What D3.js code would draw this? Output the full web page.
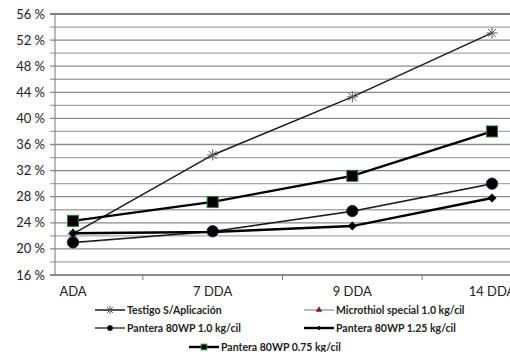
<!DOCTYPE html>
<html>
<head>
<meta charset="utf-8">
<script src="https://d3js.org/d3.v7.min.js"></script>
<style>
  body, html { margin: 0; padding: 0; background: #fff; }
  svg { display: block; }
  text { font-family: Lato, "Open Sans", sans-serif; fill: #222; }
</style>
</head>
<body>
<svg width="510" height="352"></svg>
<script>
  // categories and series values (percent)
  const categories = ["ADA", "7 DDA", "9 DDA", "14 DDA"];
  const testigo     = [22.3, 34.4, 43.3, 53.1];
  const microthiol  = [20.9, 22.6, 25.7, 29.9];
  const pantera10   = [21.0, 22.7, 25.8, 30.0];
  const pantera125  = [22.4, 22.6, 23.5, 27.8];
  const pantera075  = [24.3, 27.2, 31.2, 38.0];
  const yTicks = d3.range(16, 57, 4);
  const yMinor = d3.range(16, 57, 2);

  const series = [
    { name: "Testigo S/Aplicación", values: testigo, width: 1.5, color: "#1a1a1a", marker: "star" },
    { name: "Microthiol special 1.0 kg/cil", values: microthiol, width: 1, color: "#777", marker: "triangle" },
    { name: "Pantera 80WP 1.0 kg/cil", values: pantera10, width: 1.2, color: "#111", marker: "circle" },
    { name: "Pantera 80WP 1.25 kg/cil", values: pantera125, width: 2.4, color: "#000", marker: "diamond" },
    { name: "Pantera 80WP 0.75 kg/cil", values: pantera075, width: 2.4, color: "#000", marker: "square" }
  ];

  const svg = d3.select("svg");
  const plotL = 55, plotR = 510, plotT = 14, plotB = 275;

  const x = d3.scalePoint().domain(categories).range([73, 492]);
  const y = d3.scaleLinear().domain([16, 56]).range([plotB, plotT]);

  // gridlines
  svg.append("g").selectAll("line").data(yMinor).join("line")
    .attr("x1", plotL - 5).attr("x2", plotR)
    .attr("y1", d => y(d)).attr("y2", d => y(d))
    .attr("stroke", d => d === 56 ? "#555" : (d % 4 === 0 ? "#8a8a8a" : "#a8a8a8"))
    .attr("stroke-width", 1.3);

  // y labels
  svg.append("g").selectAll("text").data(yTicks).join("text")
    .attr("x", 45).attr("y", d => y(d) + 4.5)
    .attr("text-anchor", "end").attr("font-size", 13)
    .text(d => d + " %");

  // axes
  svg.append("line").attr("x1", plotL).attr("x2", plotL).attr("y1", plotT).attr("y2", plotB)
    .attr("stroke", "#777").attr("stroke-width", 1);
  svg.append("line").attr("x1", plotL - 5).attr("x2", plotR).attr("y1", plotB).attr("y2", plotB)
    .attr("stroke", "#777").attr("stroke-width", 1);

  // category ticks between categories
  const step = x.step();
  svg.append("g").selectAll("line").data(categories.slice(0, -1)).join("line")
    .attr("x1", d => x(d) + step / 2).attr("x2", d => x(d) + step / 2)
    .attr("y1", plotB).attr("y2", plotB + 5)
    .attr("stroke", "#777");

  svg.append("g").selectAll("text").data(categories).join("text")
    .attr("x", d => x(d)).attr("y", 296)
    .attr("text-anchor", "middle").attr("font-size", 13)
    .text(d => d);

  function drawMarker(g, type, cx, cy, legend) {
    if (type === "star") {
      const r = legend ? 4 : 5.5;
      [0, 45, 90, 135].forEach(a => {
        const rad = a * Math.PI / 180;
        g.append("line")
          .attr("x1", cx - r * Math.cos(rad)).attr("y1", cy - r * Math.sin(rad))
          .attr("x2", cx + r * Math.cos(rad)).attr("y2", cy + r * Math.sin(rad))
          .attr("stroke", "#555").attr("stroke-width", 1);
      });
    } else if (type === "triangle") {
      g.append("path").attr("d", d3.symbol(d3.symbolTriangle, legend ? 18 : 40)())
        .attr("transform", `translate(${cx},${cy})`).attr("fill", "#8b1a1a");
    } else if (type === "circle") {
      g.append("circle").attr("cx", cx).attr("cy", cy).attr("r", legend ? 2.6 : 5.7)
        .attr("fill", "#000").attr("stroke", "#1a1a4a").attr("stroke-width", 0.8);
    } else if (type === "diamond") {
      const s = legend ? 2.3 : 4.5;
      g.append("path").attr("d", `M${cx},${cy - s}L${cx + s},${cy}L${cx},${cy + s}L${cx - s},${cy}Z`)
        .attr("fill", "#000");
    } else if (type === "square") {
      const s = legend ? 2.8 : 5.5;
      g.append("rect").attr("x", cx - s).attr("y", cy - s).attr("width", 2 * s).attr("height", 2 * s)
        .attr("fill", "#000").attr("stroke", "#2e7d32").attr("stroke-width", 1);
    }
  }

  const line = d3.line().x((d, i) => x(categories[i])).y(d => y(d));

  series.forEach(s => {
    const g = svg.append("g");
    g.append("path").datum(s.values).attr("d", line)
      .attr("fill", "none").attr("stroke", s.color).attr("stroke-width", s.width);
    s.values.forEach((v, i) => drawMarker(g, s.marker, x(categories[i]), y(v), false));
  });

  // legend
  const legendPos = [
    { x: 95, y: 310 }, { x: 304, y: 310 },
    { x: 95, y: 328 }, { x: 304, y: 328 },
    { x: 189, y: 347 }
  ];
  series.forEach((s, i) => {
    const p = legendPos[i];
    const g = svg.append("g");
    g.append("line").attr("x1", p.x).attr("x2", p.x + 30).attr("y1", p.y).attr("y2", p.y)
      .attr("stroke", s.color).attr("stroke-width", s.width);
    drawMarker(g, s.marker, p.x + 15, p.y, true);
    g.append("text").attr("x", p.x + 32).attr("y", p.y + 4)
      .attr("font-size", 10.5).attr("font-weight", "bold").text(s.name);
  });
</script>
</body>
</html>
